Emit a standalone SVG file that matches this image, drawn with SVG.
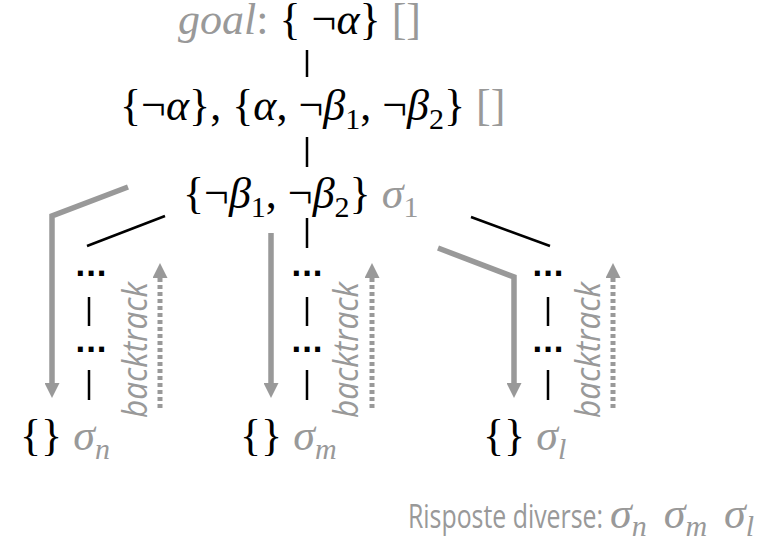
<svg xmlns="http://www.w3.org/2000/svg" width="769" height="551" viewBox="0 0 769 551">
<style>
text{font-family:"Liberation Serif","Times New Roman",Times,serif}
.m{font-family:"Liberation Serif","Times New Roman",Times,serif;font-size:44px;fill:#000}
.g{fill:#999}
.i{font-style:italic}
.sub{font-size:30px}
.dots{font-family:"DejaVu Sans",sans-serif;font-weight:bold;font-size:28px;fill:#000;text-anchor:middle}
.bt{font-family:"Open Sans",sans-serif;font-style:italic;font-size:34px;fill:#999;text-anchor:middle}
.ans{font-family:"Open Sans",sans-serif;font-size:32px;fill:#999}
.k{stroke:#000;stroke-width:2.5;fill:none}
.ga{stroke:#999;stroke-width:5.5;fill:none;marker-end:url(#ah)}
.da{stroke:#999;stroke-width:5;fill:none;stroke-dasharray:4 3;marker-end:url(#ah)}
</style>
<defs>
<marker id="ah" markerUnits="userSpaceOnUse" viewBox="0 0 15 15" refX="7" refY="7.5" markerWidth="15" markerHeight="15" orient="auto">
<path d="M0,0 L15,7.5 L0,15 z" fill="#999"/>
</marker>
</defs>
<g id="n-goal"><text class="m" x="178" y="34"><tspan class="g i">goal</tspan><tspan class="g">:</tspan> { ¬<tspan class="i">α</tspan>} <tspan class="g">[]</tspan></text></g>
<g id="n-2"><text class="m" x="120" y="120">{¬<tspan class="i">α</tspan>}, {<tspan class="i">α</tspan>, ¬<tspan class="i">β</tspan><tspan class="sub" dy="9">1</tspan><tspan dy="-9">, ¬</tspan><tspan class="i">β</tspan><tspan class="sub" dy="9">2</tspan><tspan dy="-9">} </tspan><tspan class="g">[]</tspan></text></g>
<g id="n-3"><text class="m" x="183" y="208">{¬<tspan class="i">β</tspan><tspan class="sub" dy="9">1</tspan><tspan dy="-9">, ¬</tspan><tspan class="i">β</tspan><tspan class="sub" dy="9">2</tspan><tspan dy="-9">} </tspan><tspan class="g i">σ</tspan><tspan class="g sub" dy="9">1</tspan></text></g>
<g id="n-left">
<text class="dots" x="91" y="276">...</text>
<text class="dots" x="91" y="352">...</text>
<text class="m" x="20" y="450">{} <tspan class="g i">σ</tspan><tspan class="g i sub" dy="9">n</tspan></text>
<text class="bt" transform="translate(147,350) rotate(-90)" textLength="136" lengthAdjust="spacingAndGlyphs">backtrack</text>
</g>
<g id="n-mid">
<text class="dots" x="307" y="276">...</text>
<text class="dots" x="307" y="352">...</text>
<text class="m" x="240" y="450">{} <tspan class="g i">σ</tspan><tspan class="g i sub" dy="9">m</tspan></text>
<text class="bt" transform="translate(358,350) rotate(-90)" textLength="136" lengthAdjust="spacingAndGlyphs">backtrack</text>
</g>
<g id="n-right">
<text class="dots" x="548" y="276">...</text>
<text class="dots" x="548" y="352">...</text>
<text class="m" x="483" y="450">{} <tspan class="g i">σ</tspan><tspan class="g i sub" dy="9">l</tspan></text>
<text class="bt" transform="translate(600,350) rotate(-90)" textLength="136" lengthAdjust="spacingAndGlyphs">backtrack</text>
</g>
<g id="answer">
<text class="ans" x="408" y="528" textLength="195" lengthAdjust="spacingAndGlyphs">Risposte diverse:</text>
<text class="m" x="610" y="528"><tspan class="g i">σ</tspan><tspan class="g i sub" dy="8">n</tspan><tspan class="g i" dy="-8" dx="17">σ</tspan><tspan class="g i sub" dy="8">m</tspan><tspan class="g i" dy="-8" dx="17">σ</tspan><tspan class="g i sub" dy="8">l</tspan></text>
</g>
<g id="connectors">
<line class="k" x1="307" y1="50" x2="307" y2="77"/>
<line class="k" x1="307" y1="137" x2="307" y2="167"/>
<line class="k" x1="307" y1="218" x2="307" y2="248"/>
<line class="k" x1="165" y1="216" x2="87" y2="246"/>
<line class="k" x1="471" y1="217" x2="550" y2="246"/>
<line class="k" x1="89" y1="297" x2="89" y2="326"/>
<line class="k" x1="89" y1="370" x2="89" y2="400"/>
<line class="k" x1="307" y1="297" x2="307" y2="326"/>
<line class="k" x1="307" y1="370" x2="307" y2="400"/>
<line class="k" x1="548" y1="297" x2="548" y2="326"/>
<line class="k" x1="548" y1="370" x2="548" y2="400"/>
<polyline class="ga" points="128,187 52,216 52,390"/>
<line class="ga" x1="271" y1="233" x2="271" y2="390"/>
<polyline class="ga" points="438,248 514,277 514,390"/>
<line class="da" x1="160" y1="408" x2="160" y2="271"/>
<line class="da" x1="372" y1="408" x2="372" y2="271"/>
<line class="da" x1="613" y1="408" x2="613" y2="271"/>
</g>
</svg>
